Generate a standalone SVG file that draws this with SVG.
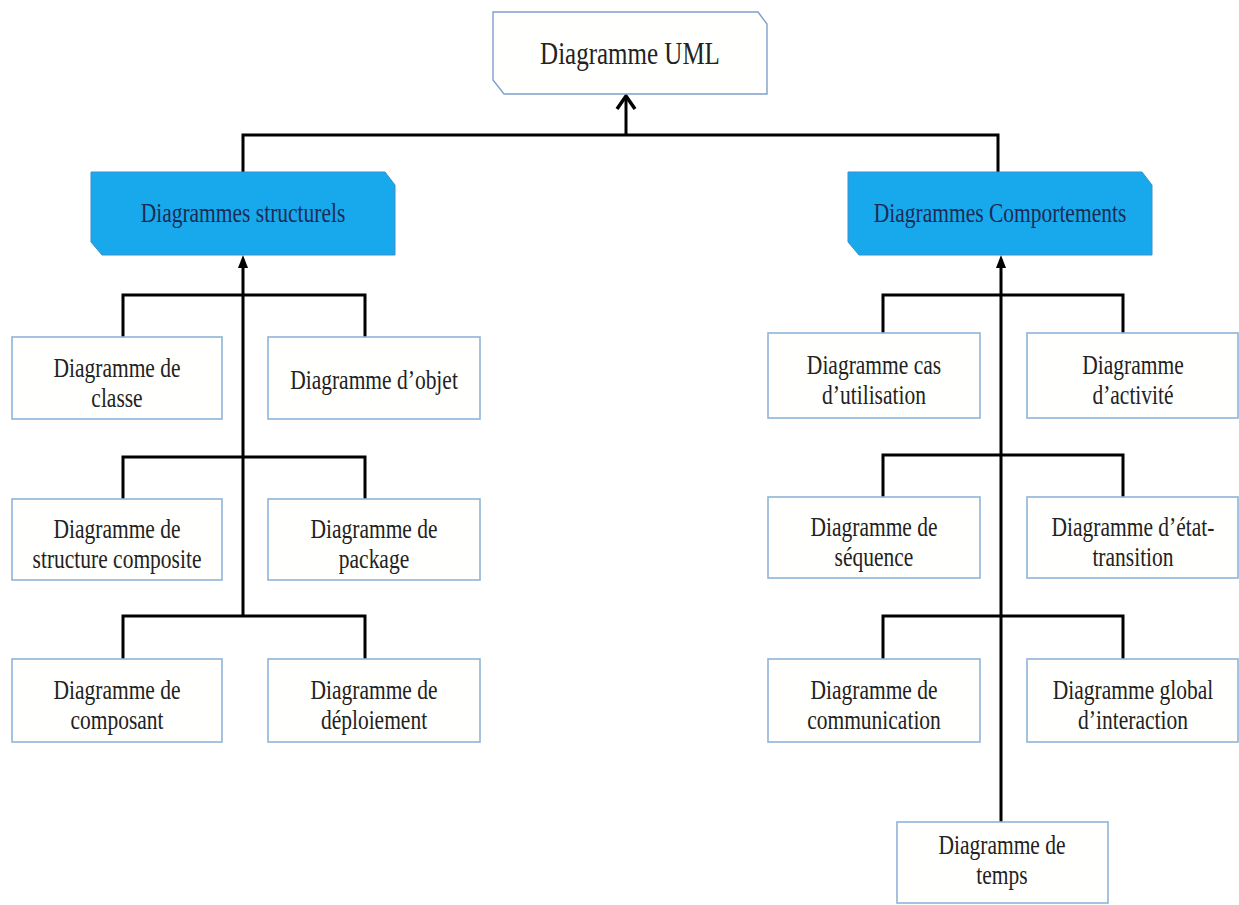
<svg xmlns="http://www.w3.org/2000/svg" width="1239" height="905" viewBox="0 0 1239 905">
<style>
.bg{fill:#ffffff}
.box{fill:#fffffd;stroke:#8fb3da;stroke-width:1.6}
.top{fill:#fffffd;stroke:#7f9fcc;stroke-width:1.4}
.blue{fill:#17a9ec;stroke:#3b8fd0;stroke-width:1}
.t{font-family:"Liberation Serif","Times New Roman",serif;font-size:21.5px;fill:#222;text-anchor:middle}
.tb{font-family:"Liberation Serif","Times New Roman",serif;font-size:21.5px;fill:#1b2c55;text-anchor:middle}
.tt{font-family:"Liberation Serif","Times New Roman",serif;font-size:25px;fill:#222;text-anchor:middle}
.c{fill:none;stroke:#000;stroke-width:3}
.ah{fill:#000}
</style>
<rect class="bg" width="1239" height="905"/>
<g id="connectors">
  <path class="c" d="M243 172 V135 H998 V172"/>
  <path class="c" d="M626 135 V97"/>
  <path d="M617 109 L626 96 L635 109" fill="none" stroke="#000" stroke-width="3.5"/>
  <path class="c" d="M243 265 V616"/>
  <polygon class="ah" points="243,255 238,268 248,268"/>
  <path class="c" d="M123 337 V295 H365 V337"/>
  <path class="c" d="M123 499 V457 H365 V499"/>
  <path class="c" d="M123 659 V616 H365 V659"/>
  <path class="c" d="M1001 265 V822"/>
  <polygon class="ah" points="1001,255 996,268 1006,268"/>
  <path class="c" d="M883 333 V295 H1123 V333"/>
  <path class="c" d="M883 497 V455 H1123 V497"/>
  <path class="c" d="M883 659 V616 H1123 V659"/>
</g>
<g id="uml">
  <path class="top" d="M493 12 H758 L767 24 V94 H504 L493 80 Z"/>
  <text class="tt" transform="translate(630 64) scale(1 1.3)" x="0" y="0">Diagramme UML</text>
</g>
<g id="structurels">
  <path class="blue" d="M91 172 H385 L395 185 V255 H102 L91 242 Z"/>
  <text class="tb" transform="translate(243 222) scale(1 1.25)" x="0" y="0">Diagrammes structurels</text>
</g>
<g id="comportements">
  <path class="blue" d="M848 172 H1142 L1152 185 V255 H859 L848 242 Z"/>
  <text class="tb" transform="translate(1000 222) scale(1 1.25)" x="0" y="0">Diagrammes Comportements</text>
</g>
<g id="classe">
  <rect class="box" x="12" y="337" width="210" height="82"/>
  <text class="t" transform="translate(117 377) scale(1 1.25)"><tspan x="0" y="0">Diagramme de</tspan><tspan x="0" y="24">classe</tspan></text>
</g>
<g id="objet">
  <rect class="box" x="268" y="337" width="212" height="82"/>
  <text class="t" transform="translate(374 389) scale(1 1.25)" x="0" y="0">Diagramme d’objet</text>
</g>
<g id="structure-composite">
  <rect class="box" x="12" y="499" width="210" height="81"/>
  <text class="t" transform="translate(117 538) scale(1 1.25)"><tspan x="0" y="0">Diagramme de</tspan><tspan x="0" y="24">structure composite</tspan></text>
</g>
<g id="package">
  <rect class="box" x="268" y="499" width="212" height="81"/>
  <text class="t" transform="translate(374 538) scale(1 1.25)"><tspan x="0" y="0">Diagramme de</tspan><tspan x="0" y="24">package</tspan></text>
</g>
<g id="composant">
  <rect class="box" x="12" y="659" width="210" height="83"/>
  <text class="t" transform="translate(117 699) scale(1 1.25)"><tspan x="0" y="0">Diagramme de</tspan><tspan x="0" y="24">composant</tspan></text>
</g>
<g id="deploiement">
  <rect class="box" x="268" y="659" width="212" height="83"/>
  <text class="t" transform="translate(374 699) scale(1 1.25)"><tspan x="0" y="0">Diagramme de</tspan><tspan x="0" y="24">déploiement</tspan></text>
</g>
<g id="cas-utilisation">
  <rect class="box" x="768" y="333" width="212" height="85"/>
  <text class="t" transform="translate(874 374) scale(1 1.25)"><tspan x="0" y="0">Diagramme cas</tspan><tspan x="0" y="24">d’utilisation</tspan></text>
</g>
<g id="activite">
  <rect class="box" x="1027" y="333" width="211" height="85"/>
  <text class="t" transform="translate(1133 374) scale(1 1.25)"><tspan x="0" y="0">Diagramme</tspan><tspan x="0" y="24">d’activité</tspan></text>
</g>
<g id="sequence">
  <rect class="box" x="768" y="497" width="212" height="81"/>
  <text class="t" transform="translate(874 536) scale(1 1.25)"><tspan x="0" y="0">Diagramme de</tspan><tspan x="0" y="24">séquence</tspan></text>
</g>
<g id="etat-transition">
  <rect class="box" x="1027" y="497" width="211" height="81"/>
  <text class="t" transform="translate(1133 536) scale(1 1.25)"><tspan x="0" y="0">Diagramme d’état-</tspan><tspan x="0" y="24">transition</tspan></text>
</g>
<g id="communication">
  <rect class="box" x="768" y="659" width="212" height="83"/>
  <text class="t" transform="translate(874 699) scale(1 1.25)"><tspan x="0" y="0">Diagramme de</tspan><tspan x="0" y="24">communication</tspan></text>
</g>
<g id="global-interaction">
  <rect class="box" x="1027" y="659" width="211" height="83"/>
  <text class="t" transform="translate(1133 699) scale(1 1.25)"><tspan x="0" y="0">Diagramme global</tspan><tspan x="0" y="24">d’interaction</tspan></text>
</g>
<g id="temps">
  <rect class="box" x="897" y="822" width="211" height="81"/>
  <text class="t" transform="translate(1002 854) scale(1 1.25)"><tspan x="0" y="0">Diagramme de</tspan><tspan x="0" y="24">temps</tspan></text>
</g>
</svg>
